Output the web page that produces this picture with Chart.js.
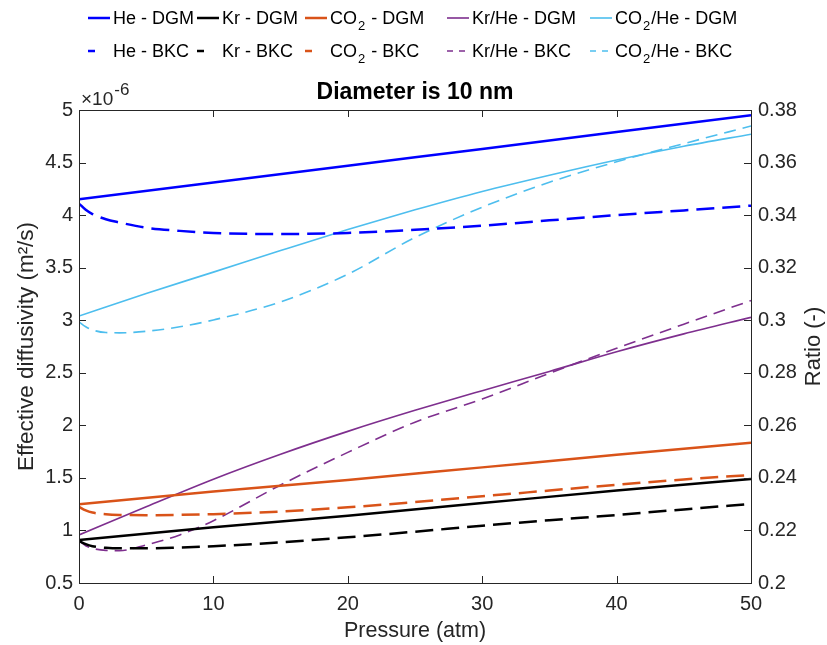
<!DOCTYPE html>
<html><head><meta charset="utf-8">
<script src="https://cdn.jsdelivr.net/npm/chart.js@4.4.1/dist/chart.umd.min.js"></script>
<style>
html,body{margin:0;padding:0;background:#fff;}
#wrap{position:relative;width:827px;height:645px;overflow:hidden;}
canvas{position:absolute;left:0;top:0;}
.leg{position:absolute;font-family:"Liberation Sans",Arial,Helvetica,sans-serif;font-size:18px;color:#000;white-space:nowrap;display:flex;align-items:center;height:22px;}
.leg svg{margin-right:3px;flex:none;}
.leg sub{font-size:13px;vertical-align:-6px;line-height:0;margin:0 1px;}
</style></head><body>
<div id="wrap"><canvas id="c" width="827" height="645"></canvas><div id="legend"></div></div>
<script>
// ---- data (diffusivity in units of 1e-6 m^2/s, ratio dimensionless) ----
const pressureDGM = [0, 10, 20, 30, 40, 50];
const heDGM  = [4.15, 4.31, 4.47, 4.63, 4.79, 4.95];
const krDGM  = [0.91, 1.03, 1.14, 1.26, 1.38, 1.49];
const co2DGM = [1.25, 1.37, 1.48, 1.60, 1.72, 1.835];

const pressureBKC = [0, 0.5, 1, 2, 3, 5, 7.5, 10, 15, 20, 25, 30, 35, 40, 45, 50];
const heBKC  = [4.11, 4.05, 4.01, 3.96, 3.93, 3.88, 3.85, 3.83, 3.82, 3.83, 3.86, 3.90, 3.95, 4.00, 4.045, 4.09];
const krBKC  = [0.90, 0.87, 0.85, 0.835, 0.83, 0.83, 0.838, 0.85, 0.887, 0.935, 0.988, 1.045, 1.097, 1.147, 1.20, 1.252];
const co2BKC = [1.225, 1.19, 1.17, 1.155, 1.148, 1.145, 1.148, 1.155, 1.18, 1.22, 1.27, 1.325, 1.38, 1.435, 1.485, 1.528];

const pressureRatioDGM = [0, 5, 10, 15, 20, 25, 30, 35, 40, 45, 50];
const krHeDGM  = [0.2183, 0.229, 0.2395, 0.249, 0.2577, 0.2657, 0.2732, 0.2805, 0.2880, 0.2948, 0.3011];
const co2HeDGM = [0.3016, 0.3102, 0.3183, 0.3265, 0.3345, 0.3420, 0.3490, 0.3552, 0.3610, 0.3662, 0.3708];

const krHeBKC  = [0.2161, 0.2142, 0.2132, 0.2124, 0.2123, 0.2145, 0.2183, 0.2237, 0.2373, 0.2497, 0.2612, 0.2700, 0.2798, 0.2893, 0.2985, 0.3075];
const co2HeBKC = [0.2994, 0.2975, 0.2963, 0.2953, 0.2952, 0.2958, 0.2975, 0.3001, 0.3070, 0.3175, 0.3315, 0.3430, 0.3525, 0.3603, 0.3672, 0.3739];

const xTicks = [0, 10, 20, 30, 40, 50];
const leftTicks = [0.5, 1, 1.5, 2, 2.5, 3, 3.5, 4, 4.5, 5];
const rightTicks = [0.2, 0.22, 0.24, 0.26, 0.28, 0.3, 0.32, 0.34, 0.36, 0.38];
const xTickLabels = ['0','10','20','30','40','50'];
const leftTickLabels = ['0.5','1','1.5','2','2.5','3','3.5','4','4.5','5'];
const rightTickLabels = ['0.2','0.22','0.24','0.26','0.28','0.3','0.32','0.34','0.36','0.38'];

const labels = ['He - DGM','Kr - DGM','CO<sub>2</sub> - DGM','Kr/He - DGM','CO<sub>2</sub>/He - DGM',
                'He - BKC','Kr - BKC','CO<sub>2</sub> - BKC','Kr/He - BKC','CO<sub>2</sub>/He - BKC'];

// ---- styles ----
const C = {he:'#0000FF', kr:'#000000', co2:'#D95319', krhe:'#7E2F8E', co2he:'#4DBEEE'};
const FONT = '"Liberation Sans", Arial, Helvetica, sans-serif';

function pts(xs, ys){ return xs.map((x,i)=>({x:x, y:ys[i]})); }

const series = [
  {data:pts(pressureDGM,heDGM), color:C.he, w:2.5, dash:[], axis:'y', leg:0},
  {data:pts(pressureDGM,krDGM), color:C.kr, w:2.5, dash:[], axis:'y', leg:1},
  {data:pts(pressureDGM,co2DGM), color:C.co2, w:2.5, dash:[], axis:'y', leg:2},
  {data:pts(pressureBKC,heBKC), color:C.he, w:2.5, dash:[18,8], axis:'y', leg:5},
  {data:pts(pressureBKC,krBKC), color:C.kr, w:2.5, dash:[18,8], axis:'y', leg:6},
  {data:pts(pressureBKC,co2BKC), color:C.co2, w:2.5, dash:[18,8], axis:'y', leg:7},
  {data:pts(pressureRatioDGM,krHeDGM), color:C.krhe, w:1.6, dash:[], axis:'y1', leg:3},
  {data:pts(pressureRatioDGM,co2HeDGM), color:C.co2he, w:1.6, dash:[], axis:'y1', leg:4},
  {data:pts(pressureBKC,krHeBKC), color:C.krhe, w:1.6, dash:[12,7], axis:'y1', leg:8},
  {data:pts(pressureBKC,co2HeBKC), color:C.co2he, w:1.6, dash:[12,7], axis:'y1', leg:9},
];

const datasets = series.map(s=>({
  label: labels[s.leg].replace(/<\/?sub>/g,''),
  data: s.data, borderColor: s.color, backgroundColor: s.color,
  borderWidth: s.w, borderDash: s.dash, yAxisID: s.axis,
  pointRadius: 0, fill: false, cubicInterpolationMode: 'monotone'
}));

// ---- legend (HTML) ----
const colLeft = [88, 197, 305, 447, 590];
const rowMid = [18, 51];
const legEl = document.getElementById('legend');
series.slice().sort((a,b)=>a.leg-b.leg).forEach(s=>{
  const col = s.leg % 5, row = Math.floor(s.leg/5);
  const d = document.createElement('div');
  d.className='leg';
  d.style.left = colLeft[col]+'px';
  d.style.top = (rowMid[row]-11)+'px';
  let dash = '';
  if (s.dash.length) dash = s.w > 2 ? 'stroke-dasharray="7 30"' : 'stroke-dasharray="6 6"';
  d.innerHTML = '<svg width="22" height="10"><line x1="0" y1="5" x2="22" y2="5" stroke="'+s.color+'" stroke-width="'+s.w+'" '+dash+'/></svg><span>'+labels[s.leg]+'</span>';
  legEl.appendChild(d);
});

// ---- frame, inward ticks, titles ----
const framePlugin = {
  id:'frame',
  afterDraw(chart){
    const ctx = chart.ctx;
    const {left,right,top,bottom} = chart.chartArea;
    const sx = chart.scales.x, sy = chart.scales.y, sy1 = chart.scales.y1;
    ctx.save();
    ctx.strokeStyle = '#262626';
    ctx.lineWidth = 1;
    ctx.strokeRect(Math.round(left)+0.5, Math.round(top)+0.5, Math.round(right-left), Math.round(bottom-top));
    const TL = 7;
    ctx.beginPath();
    xTicks.forEach(v=>{
      const px = Math.round(sx.getPixelForValue(v))+0.5;
      ctx.moveTo(px, bottom); ctx.lineTo(px, bottom-TL);
      ctx.moveTo(px, top); ctx.lineTo(px, top+TL);
    });
    leftTicks.forEach(v=>{
      const py = Math.round(sy.getPixelForValue(v))+0.5;
      ctx.moveTo(left, py); ctx.lineTo(left+TL, py);
    });
    rightTicks.forEach(v=>{
      const py = Math.round(sy1.getPixelForValue(v))+0.5;
      ctx.moveTo(right, py); ctx.lineTo(right-TL, py);
    });
    ctx.stroke();

    ctx.fillStyle = '#000';
    ctx.textAlign = 'center'; ctx.textBaseline = 'middle';
    ctx.font = 'bold 23px '+FONT;
    ctx.fillText('Diameter is 10 nm', (left+right)/2, 93);

    ctx.fillStyle = '#262626';
    ctx.textAlign = 'left';
    ctx.font = '19px '+FONT;
    ctx.fillText('\u00d710', left+2, 100);
    const w = ctx.measureText('\u00d710').width;
    ctx.font = '17px '+FONT;
    ctx.fillText('-6', left+2+w+1, 90);

    ctx.font = '21.5px '+FONT;
    ctx.textAlign = 'center';
    ctx.fillText('Pressure (atm)', (left+right)/2, 631);
    const midY = (top+bottom)/2;
    ctx.font = '22.5px '+FONT;
    ctx.save();
    ctx.translate(27, midY); ctx.rotate(-Math.PI/2);
    ctx.fillText('Effective diffusivity (m\u00b2/s)', 0, 0);
    ctx.restore();
    ctx.font = '22px '+FONT;
    ctx.save();
    ctx.translate(814, midY); ctx.rotate(-Math.PI/2);
    ctx.fillText('Ratio (-)', 0, 0);
    ctx.restore();
    ctx.restore();
  }
};

const tickFont = {family: FONT, size: 20};
const noGrid = {display: false, drawTicks: false};
new Chart(document.getElementById('c'), {
  type: 'line',
  data: {datasets},
  options: {
    responsive: false, animation: false, devicePixelRatio: 1,
    layout: {padding: {top: 110, left: 0, right: 0, bottom: 0}},
    plugins: {legend: {display: false}, tooltip: {enabled: false}, title: {display: false}},
    scales: {
      x: {
        type: 'linear', min: 0, max: 50,
        afterBuildTicks: s => { s.ticks = xTicks.map(v=>({value:v})); },
        ticks: {font: tickFont, color: '#262626', padding: 9, maxRotation: 0, callback: (v,i) => xTickLabels[i]},
        grid: noGrid, border: {display: false},
        afterFit: s => { s.height = 62; s.paddingLeft = 0; s.paddingRight = 0; }
      },
      y: {
        type: 'linear', position: 'left', min: 0.5, max: 5,
        afterBuildTicks: s => { s.ticks = leftTicks.map(v=>({value:v})); },
        ticks: {font: tickFont, color: '#262626', padding: 6, callback: (v,i) => leftTickLabels[i]},
        grid: noGrid, border: {display: false},
        afterFit: s => { s.width = 79; s.paddingTop = 0; s.paddingBottom = 0; }
      },
      y1: {
        type: 'linear', position: 'right', min: 0.2, max: 0.38,
        afterBuildTicks: s => { s.ticks = rightTicks.map(v=>({value:v})); },
        ticks: {font: tickFont, color: '#262626', padding: 7, callback: (v,i) => rightTickLabels[i]},
        grid: noGrid, border: {display: false},
        afterFit: s => { s.width = 76; s.paddingTop = 0; s.paddingBottom = 0; }
      }
    }
  },
  plugins: [framePlugin]
});
</script>
</body></html>
